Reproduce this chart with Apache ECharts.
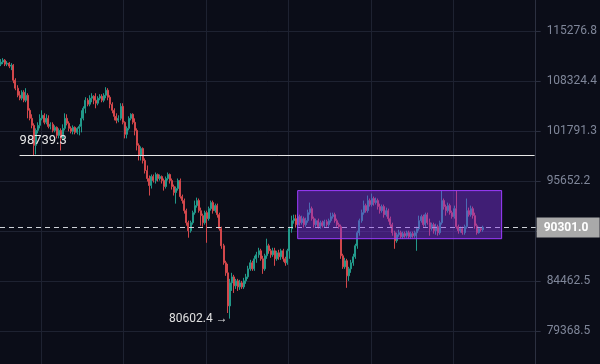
<!DOCTYPE html>
<html>
<head>
<meta charset="utf-8">
<script src="https://cdn.jsdelivr.net/npm/echarts@6/dist/echarts.min.js"></script>
<style>
html,body{margin:0;padding:0;background:#0b0d18;}
#c{width:600px;height:364px;}
</style>
</head>
<body>
<div id="c"></div>
<script>
// ---- data ----
const opens = [110620,110900,111170,110620,110760,110350,110480,108430,107360,106420,106030,106820,105760,106420,104450,103410,102510,99990,101870,102510,103410,103800,102900,103410,102380,102640,101870,102260,101240,101870,100860,102130,103410,102770,102130,101750,102260,101620,102130,102380,103410,104710,105760,105240,106030,106290,105760,105370,106030,106290,105760,106420,107090,106160,105240,104450,103670,103150,103410,104970,102900,101370,102130,103410,103930,102900,101870,99990,98750,99610,98130,96910,95950,95120,96190,95710,96430,95950,96190,95710,95000,95950,96430,95710,95000,94290,94760,95710,93820,93350,92190,90820,89920,90820,91960,92770,93350,92190,91620,90820,91960,91280,92420,93120,92190,92770,91730,90150,88250,86400,85330,81890,84270,84900,83960,84480,83850,84270,83850,84480,84900,85750,86400,85750,86830,87270,87700,86830,85750,87160,88250,87700,87270,87700,86830,87480,87050,87700,86830,86400,87700,90150,91050,91280,90600,91510,90820,91280,90600,91050,91960,92420,91280,90600,91050,90370,90820,90480,90940,90600,91050,91510,91730,91050,90600,90370,87160,85970,86620,85010,85750,86400,87050,88250,89700,91050,91960,92770,92190,93350,92890,93590,93120,93350,92660,92190,92660,91730,92190,91280,90600,89700,88800,89470,89700,89250,89590,89360,89700,89250,89590,89360,89700,90150,91050,91510,90600,91730,90820,90150,90600,89920,90370,89700,90820,93350,92660,92190,92770,91960,91510,92420,90370,89920,90150,89700,90370,92190,91730,92420,91620,90480,89700,90150,90030];
const closes = [110900,111170,110620,110760,110350,110480,108430,107360,106420,106030,106820,105760,106420,104450,103410,102510,99990,101870,102510,103410,103800,102900,103410,102380,102640,101870,102260,101240,101870,100860,102130,103410,102770,102130,101750,102260,101620,102130,102380,103410,104710,105760,105240,106030,106290,105760,105370,106030,106290,105760,106420,107090,106160,105240,104450,103670,103150,103410,104970,102900,101370,102130,103410,103930,102900,101870,99990,98750,99610,98130,96910,95950,95120,96190,95710,96430,95950,96190,95710,95000,95950,96430,95710,95000,94290,94760,95710,93820,93350,92190,90820,89920,90820,91960,92770,93350,92190,91620,90820,91960,91280,92420,93120,92190,92770,91730,90150,88250,86400,85330,81890,84270,84900,83960,84480,83850,84270,83850,84480,84900,85750,86400,85750,86830,87270,87700,86830,85750,87160,88250,87700,87270,87700,86830,87480,87050,87700,86830,86400,87700,90150,91050,91280,90600,91510,90820,91280,90600,91050,91960,92420,91280,90600,91050,90370,90820,90480,90940,90600,91050,91510,91730,91050,90600,90370,87160,85970,86620,85010,85750,86400,87050,88250,89700,91050,91960,92770,92190,93350,92890,93590,93120,93350,92660,92190,92660,91730,92190,91280,90600,89700,88800,89470,89700,89250,89590,89360,89700,89250,89590,89360,89700,90150,91050,91510,90600,91730,90820,90150,90600,89920,90370,89700,90820,93350,92660,92190,92770,91960,91510,92420,90370,89920,90150,89700,90370,92190,91730,92420,91620,90480,89700,90150,90030,90301.0];
const highs = [111310,111450,111310,111040,110900,110760,110620,108700,107760,106960,107090,107090,107360,106690,104710,103930,102770,102130,102900,103930,104450,104060,103930,103800,102900,102900,102510,102380,102130,102130,102640,104060,103930,103030,102380,102510,102380,102260,102640,104450,104970,106160,106030,106420,106690,106420,106690,106290,106560,106560,106690,107490,107360,106420,105500,104710,104060,103800,105370,105370,103030,102380,103670,104060,104060,103410,102130,100240,99860,99740,98380,97520,96310,96430,96430,96670,96550,96430,96310,95950,96190,96670,96550,95950,95230,95000,95950,95950,94050,93590,92420,91050,91050,92190,93350,93700,93590,92540,91850,92190,92190,92660,93350,93350,93000,93000,91960,90370,88470,86620,86290,84690,85330,85120,84690,84690,84590,84480,84800,85220,86080,86720,86620,87160,87590,88030,87920,87160,87380,89030,88470,87920,88030,88030,87700,87810,87920,87920,87050,87920,90370,91620,91730,91730,91850,91730,91620,91510,91390,92310,93120,92660,91510,91280,91280,91050,91050,91160,91160,91280,91960,91960,91960,91280,90820,90600,87380,86940,86830,85970,86720,87380,88470,89920,91280,92310,93350,93000,93940,93590,94170,93820,93700,93590,93000,92890,92890,92540,92420,91510,90820,89920,89700,90030,89920,89810,89810,89920,89920,89810,89810,89920,90370,91620,91730,91730,91960,91960,91280,90820,90820,90710,90600,91050,94520,93590,92890,93120,93000,92190,92770,94520,90600,90370,90370,90600,93590,92540,92770,92660,91960,90710,90370,90260,90480];
const lows = [110350,110620,110350,110350,110070,109800,108030,107090,106160,105760,105760,105500,105500,103410,103150,102130,98739.3,98870,101490,102130,103150,102640,102640,102130,102000,101620,101620,100860,100860,99360,100610,101870,102510,101750,101490,101370,101370,101370,101240,101620,103150,104060,104970,104970,105500,105240,104710,105100,105760,105500,105500,106030,105760,104710,104060,103150,102770,102900,103150,102640,100860,100860,101870,103150,102640,101240,99360,98130,98130,97760,96550,95590,93940,94760,95470,95350,95590,95710,95350,94520,94760,95710,95350,94640,93940,93000,94520,93590,93000,91850,90480,89140,89700,90600,91730,92540,91960,90480,90370,90600,88580,91050,92190,91850,91960,91390,89920,87920,86190,85010,81170,80602.4,83430,83220,83640,83430,83540,83640,83640,84170,84690,85540,85540,85540,86400,86940,86620,85220,85540,86830,87380,86940,87050,86080,86620,86720,86720,86510,86080,86190,86830,89700,90710,90260,90370,90480,90600,90260,90370,90820,91730,91050,90260,90370,90150,90150,90260,90260,90370,90370,90820,91280,90820,90370,90150,86830,85750,85750,83750,84480,85330,86080,86830,87920,89360,90820,91730,91960,91960,92660,92660,92770,92890,92310,91850,91960,91390,91510,90940,90260,89360,87920,88580,89250,89030,89030,89140,89140,89030,89030,89140,89140,87700,89920,90820,90370,90370,90600,89360,89920,89590,89470,89360,89470,90600,92310,91620,91960,91730,91280,91280,90150,89590,89700,89470,89470,90150,91510,91510,91280,90150,89470,89590,89810,89810];
const tickValues = [79368.5, 84462.5, 89883.5, 95652.2, 101791.3, 108324.4, 115276.8];
const tickLabels = ['79368.5', '84462.5', '', '95652.2', '101791.3', '108324.4', '115276.8'];
const yExtent = [76180, 119810];   // visible price range (bottom, top of the plot)
const slotCount = 260;            // candle slots on the time axis (incl. empty space on the right)
const supportLevel = 98739.3;
const supportStartIndex = 9;
const lowLevel = 80602.4;
const lowIndex = 111;
const lastPrice = 90301.0;
const boxStartIndex = 144, boxEndIndex = 243;
const boxTop = 94520, boxBottom = 89030;

// ---- log-price scale: value expressed in tick steps above the first tick ----
const BASE = tickValues[0];
const RATIO = Math.pow(tickValues[6] / tickValues[0], 1 / 6);
const tr = p => Math.log(p / BASE) / Math.log(RATIO);

const categories = [];
for (let i = 0; i < slotCount; i++) categories.push(String(i));
const candles = opens.map((o, i) => [tr(o), tr(closes[i]), tr(lows[i]), tr(highs[i])]);
const tickPos = tickValues.map(tr);
const labelPos = tickValues.map(tr).filter((v, k) => tickLabels[k] !== '');

const gridColor = '#1e2231';
const chart = echarts.init(document.getElementById('c'), null, {renderer: 'canvas'});
chart.setOption({
  animation: false,
  backgroundColor: '#0b0d18',
  textStyle: {fontFamily: 'Roboto, sans-serif'},
  grid: {left: 0, right: 63.75, top: 0, bottom: 0},
  xAxis: {
    type: 'category', data: categories, boundaryGap: true,
    axisLine: {show: false}, axisTick: {show: false}, axisLabel: {show: false},
    splitLine: {show: true, interval: (i) => i % 40 === 20, lineStyle: {color: gridColor, width: 1}}
  },
  yAxis: {
    type: 'value', position: 'right', min: tr(yExtent[0]), max: tr(yExtent[1]),
    axisLine: {show: true, lineStyle: {color: '#2c3040'}},
    axisTick: {show: true, length: 5, customValues: tickPos, lineStyle: {color: '#2c3040'}},
    axisLabel: {
      margin: 11, color: '#7f8699', fontSize: 12, customValues: labelPos,
      formatter: v => { let best = 0; tickPos.forEach((t, k) => { if (Math.abs(t - v) < Math.abs(tickPos[best] - v)) best = k; }); return tickLabels[best]; }
    },
    splitLine: {show: true, lineStyle: {color: gridColor, width: 1}}
  },
  series: [{
    type: 'candlestick',
    data: candles,
    barWidth: 1.5,
    large: false,
    itemStyle: {color: '#22998a', color0: '#d2474b', borderColor: '#22998a', borderColor0: '#d2474b', borderWidth: 1},
    markArea: {
      z: 10, silent: true,
      itemStyle: {color: 'rgba(128,50,230,0.45)', borderColor: '#9d3cff', borderWidth: 1},
      data: [[{coord: [boxStartIndex, tr(boxTop)]}, {coord: [boxEndIndex, tr(boxBottom)]}]]
    },
    markLine: {
      silent: true, symbol: ['none', 'none'], animation: false,
      data: [
        [{coord: [supportStartIndex, tr(supportLevel)],
          lineStyle: {color: '#e8e8e8', width: 1, type: 'solid'},
          label: {show: true, position: 'insideStartTop', distance: [0, 8], formatter: supportLevel.toFixed(1), color: '#e6e6e6', fontSize: 13}},
         {coord: [slotCount - 1, tr(supportLevel)]}],
        {yAxis: tr(lastPrice),
         lineStyle: {color: '#cfd2d8', width: 1, type: [5, 4]},
         label: {show: true, position: 'end', distance: 1, formatter: lastPrice.toFixed(1),
                 color: '#ffffff', fontWeight: 'bold', fontSize: 12, backgroundColor: '#a9a9a9',
                 padding: [4, 7, 4, 7], width: 49}}
      ]
    },
    markPoint: {
      silent: true, symbol: 'circle', symbolSize: 0,
      data: [{coord: [lowIndex, tr(lowLevel)],
               label: {show: true, position: 'left', distance: 2, formatter: lowLevel.toFixed(1) + ' →', color: '#e0e0e0', fontSize: 12}}]
    }
  }]
});
</script>
</body>
</html>
